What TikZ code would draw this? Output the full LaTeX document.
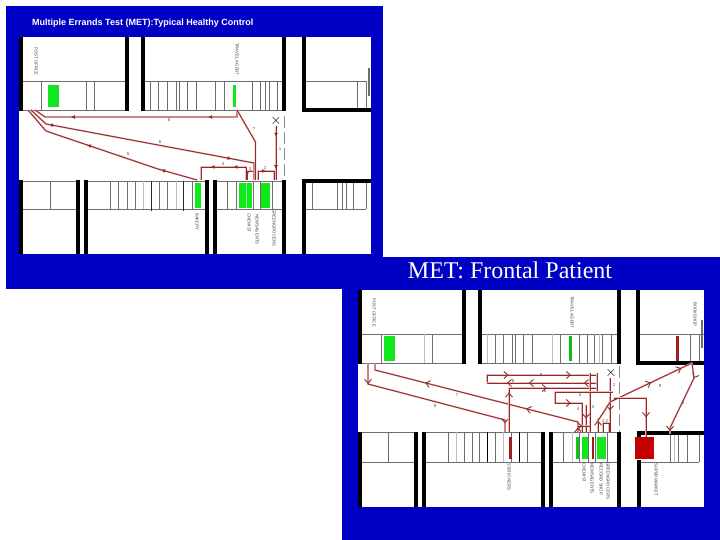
\documentclass[tikz,border=0pt]{standalone}
\usepackage{fontspec}
\setmainfont{Liberation Serif}
\newfontfamily\planfont{Liberation Sans}
\usepackage{xcolor}
\usetikzlibrary{arrows.meta,decorations.markings}
\definecolor{slideblue}{HTML}{0000C4}
\definecolor{wallblack}{HTML}{000000}
\definecolor{shelfgray}{HTML}{6E6E6E}
\definecolor{shopgreen}{HTML}{10E81C}
\definecolor{shopred}{HTML}{C40000}
\definecolor{barred}{HTML}{9A1E1E}
\definecolor{routered}{HTML}{8E2B2B}
\definecolor{routepale}{HTML}{EDB8B8}
\begin{document}
\begin{tikzpicture}[
  x=1pt, y=-1pt,
  wall/.style={draw=wallblack, line width=4pt},
  shelf/.style={draw=shelfgray, line width=0.8pt},
  route/.style={draw=routered, line width=0.9pt,
                preaction={draw=routepale, line width=1.8pt}},
  tipfill/.style={postaction={decorate, decoration={markings,
                  mark=at position #1 with {\arrow{Latex[length=4pt,width=4pt,fill=routered]}}}}},
  tipopen/.style={postaction={decorate, decoration={markings,
                  mark=at position #1 with {\arrow{Straight Barb[length=4pt,width=7pt]}}}}},
  shoplabel/.style={font=\planfont\fontsize{4.3}{5}\selectfont, text=black!75, rotate=-90,
                    anchor=west, inner sep=0pt},
  legno/.style={font=\planfont\fontsize{4.3}{5}\selectfont, text=black!70, inner sep=0pt},
  door/.style={draw=shelfgray!80, line width=0.7pt, dash pattern=on 12pt off 4pt},
]
\useasboundingbox (0,0) rectangle (720,540);
\fill[white] (0,0) rectangle (720,540);

% frontal patient slide
\fill[slideblue] (342,257) rectangle (720,540);
\fill[white] (358,290) rectangle (704,507);
\node[text=white, font=\fontsize{24}{26}\selectfont, inner sep=0pt] (titleb) at (510,270) {MET: Frontal Patient};

\draw[shelf] (360,334) -- (464,334) (360,363) -- (464,363);
\draw[shelf] (480,334) -- (619,334) (480,363) -- (619,363);
\draw[shelf] (638,334) -- (704,334);
\foreach \x in {381,432,495,503,512,515,523,532,560,579,587,594,602,611}
  \draw[shelf] (\x,334) -- (\x,363);
\foreach \x in {424,487,552,599}
  \draw[shelf, draw=shelfgray!45] (\x,334) -- (\x,363);
\draw[shelf] (690,334) -- (690,362) (699,334) -- (699,362);
\draw[shelf, line width=1.2pt] (702,320) -- (702,348);
\draw[shelf] (360,432) -- (416,432) (360,462) -- (416,462);
\draw[shelf] (424,432) -- (543,432) (424,462) -- (543,462);
\draw[shelf] (551,432) -- (619,432) (551,462) -- (619,462);
\draw[shelf] (639,462) -- (699,462);
\foreach \x in {388,448,464,472,479,495,511,527,563,579,588,595,607,670,678,687,699}
  \draw[shelf] (\x,432) -- (\x,462);
\foreach \x in {456,503,572,674}
  \draw[shelf, draw=shelfgray!45] (\x,432) -- (\x,462);
\foreach \x in {487,519}
  \draw[draw=black, line width=1pt] (\x,432) -- (\x,462);
\fill[shopgreen] (384,336) rectangle (395,361);
\fill[shopgreen!80!black] (569,336) rectangle (572,361);
\fill[barred] (676,336) rectangle (679,361);
\fill[barred] (509,437) rectangle (512,459);
\fill[shopgreen!85!black] (576,437) rectangle (579,459);
\fill[shopgreen] (582,437) rectangle (588,459);
\fill[barred] (592,437) rectangle (594,459);
\fill[shopgreen] (597,437) rectangle (606,459);
\fill[shopred] (635,437) rectangle (654,459);
\foreach \x in {360,464,480,619}
  \draw[wall] (\x,290) -- (\x,364);
\draw[wall] (638,290) -- (638,362.5) -- (704,362.5);
\foreach \x in {360,416,424,543,551,619}
  \draw[wall] (\x,432) -- (\x,507);
\draw[wall] (704,433) -- (639,433) -- (639,437);
\draw[wall] (639,460) -- (639,507);

\node[shoplabel] (postb) at (374,298) {POST OFFICE};
\node[shoplabel] (travelb) at (572,296) {TRAVEL AGENT};
\node[shoplabel] (bookb) at (695,302) {BOOKSHOP};
\node[shoplabel] (statb) at (509,463) {STATIONERS};
\node[shoplabel] (chemb) at (584,463) {CHEMIST};
\node[shoplabel] (newsb) at (592,463) {NEWSAGENTS};
\node[shoplabel] (recb) at (601,463) {RECORD SHOP};
\node[shoplabel] (grocb) at (608,462) {GREENGROCERS};
\node[shoplabel] (superb) at (656,463) {SUPERMARKET};

\draw[door] (619,366) -- (619,432);
\node[font=\planfont\fontsize{14}{14}\selectfont, inner sep=0pt] (startb) at (611,373) {$\times$};
\draw[route, tipopen=0.6] (610,378) -- (610,432);
\draw[route, tipopen=0.12, tipopen=0.95] (368,363) -- (368,384) -- (505,420) -- (505,432);
\draw[route, tipopen=0.02, tipopen=0.28, tipopen=0.74] (578,432) -- (578,422) -- (375,370) -- (375,363);
\draw[route, tipopen=0.25, tipopen=0.78] (487,383) -- (487,375) -- (597,375);
\draw[route, tipopen=0.12, tipopen=0.62, tipopen=0.82] (597,383) -- (487,383);
\draw[route, tipopen=0.3, tipopen=0.62] (509,432) -- (509,388) -- (597,388);
\draw[route] (590,373) -- (590,432) (597,373) -- (597,392);
\draw[route] (555,392) -- (613,392);
\draw[route, tipopen=0.4] (555,392) -- (555,403) -- (582,403) -- (582,432);
\draw[route, tipopen=0.5] (586,405) -- (586,432);
\draw[route, tipopen=0.35] (578,426) -- (590,426);
\draw[route, tipopen=0.82] (598,432) -- (598,418);
\draw[route] (597,422) -- (605,410) -- (610,402);
\draw[route] (603,432) -- (603,423) -- (609,423) -- (609,432);
\draw[route, tipopen=0.5, tipopen=0.87] (610,402) -- (692,363);
\draw[route, tipopen=0.2, tipopen=0.96] (692,363) -- (694,378) -- (670,428) -- (670,434);
\draw[route, tipopen=0.72] (614,398) -- (646,398) -- (646,437);

\node[legno] (legbi) at (614,385) {1};
\node[legno] (legbii) at (605,421) {1 2};
\node[legno] (legbiii) at (593,407) {3};
\node[legno] (legbiv) at (578,409) {4};
\node[legno] (legbv) at (580,395) {5};
\node[legno] (legbvi) at (545,391) {6};
\node[legno] (legbvii) at (457,395) {7};
\node[legno] (legbviii) at (435,406) {8};
\node[legno] (legbix) at (513,381) {8};
\node[legno] (legbx) at (541,375) {8};
\node[legno] (legbxi) at (660,386) {9};
\node[legno] (legbxii) at (683,403) {8};

% healthy control slide
\fill[slideblue] (6,6) rectangle (383,289);
\fill[white] (19,37) rectangle (371,254);
\node[text=white, font=\planfont\bfseries\fontsize{9}{10}\selectfont, anchor=west, inner sep=0pt] (titlea) at (32,23)
  {Multiple Errands Test (MET):Typical Healthy Control};

\draw[shelf] (21,81) -- (126,81) (21,110) -- (126,110);
\draw[shelf] (142,81) -- (284,81) (142,110) -- (284,110);
\draw[shelf] (304,81) -- (366,81);
\foreach \x in {41,86,94,150,158,167,176,179,187,196,215,224,252,260,265,269,277}
  \draw[shelf] (\x,81) -- (\x,110);
\draw[shelf] (357,81) -- (357,109) (366,81) -- (366,109);
\draw[shelf, line width=1.2pt] (369,68) -- (369,96);
\draw[shelf] (21,181) -- (78,181) (21,209) -- (78,209);
\draw[shelf] (86,181) -- (207,181) (86,209) -- (207,209);
\draw[shelf] (215,181) -- (284,181) (215,209) -- (284,209);
\draw[shelf] (304,209) -- (366,209);
\foreach \x in {50,110,118,127,135,159,167,192,227,236,253,260,272,312,337,342,346,353,366}
  \draw[shelf] (\x,181) -- (\x,209);
\foreach \x in {143,176}
  \draw[shelf, draw=shelfgray!45] (\x,181) -- (\x,209);
\foreach \x in {151,183}
  \draw[draw=black!85, line width=1pt] (\x,181) -- (\x,211);
\fill[shopgreen] (48,85) rectangle (59,107);
\fill[shopgreen] (233,85) rectangle (236,107);
\fill[shopgreen] (195,183) rectangle (201,208);
\fill[shopgreen] (239,183) rectangle (252,208);
\draw[white, opacity=0.5, line width=0.6pt] (246,183) -- (246,208);
\fill[shopgreen] (261,183) rectangle (270,208);
\foreach \x in {21,126.5,142.5,284}
  \draw[wall] (\x,37) -- (\x,111);
\draw[wall] (304,37) -- (304,110) -- (371,110);
\foreach \x in {21,78,86,207,215,284}
  \draw[wall] (\x,180) -- (\x,254);
\draw[wall] (371,181) -- (304,181) -- (304,254);

\node[shoplabel] (posta) at (36,47) {POST OFFICE};
\node[shoplabel] (travela) at (237,43) {TRAVEL AGENT};
\node[shoplabel] (bakea) at (197,213) {BAKERY};
\node[shoplabel] (chema) at (249,213) {CHEMIST};
\node[shoplabel] (newsa) at (257,214) {NEWSAGENTS};
\node[shoplabel] (groca) at (274,209) {GREENGROCERS};

\draw[door] (284.5,116) -- (284.5,180);
\node[font=\planfont\fontsize{14}{14}\selectfont, inner sep=0pt] (starta) at (276,121) {$\times$};
\draw[route, tipfill=0.2, tipfill=0.8] (276,126) -- (276,180);
\draw[route, tipfill=0.17, tipfill=0.82] (237,110) -- (237,117) -- (45,117) -- (35,110);
\draw[route, tipfill=0.12, tipfill=0.84] (31,110) -- (46,124) -- (254,163) -- (254,180);
\draw[route, tipfill=0.2, tipfill=0.62] (197,180) -- (158,169) -- (46,131) -- (28,110);
\draw[route] (237,110) -- (255.5,142) -- (255.5,180);
\draw[route, tipfill=0.5] (258,180) -- (258,171) -- (274,171) -- (274,180);
\draw[route] (247,171) -- (253,171);
\draw[route, tipfill=0.6] (247,171) -- (247,180);
\draw[route, tipfill=0.36, tipfill=0.68] (246,180) -- (246,167) -- (201,167) -- (201,180);

\node[legno] (legai) at (280,149) {1};
\node[legno] (legaii) at (265,168) {2};
\node[legno] (legaiii) at (250,169) {3};
\node[legno] (legaiv) at (223,164) {4};
\node[legno] (legav) at (128,154) {5};
\node[legno] (legavi) at (160,142) {6};
\node[legno] (legavii) at (254,129) {7};
\node[legno] (legaviii) at (169,120) {8};
\end{tikzpicture}
\end{document}
